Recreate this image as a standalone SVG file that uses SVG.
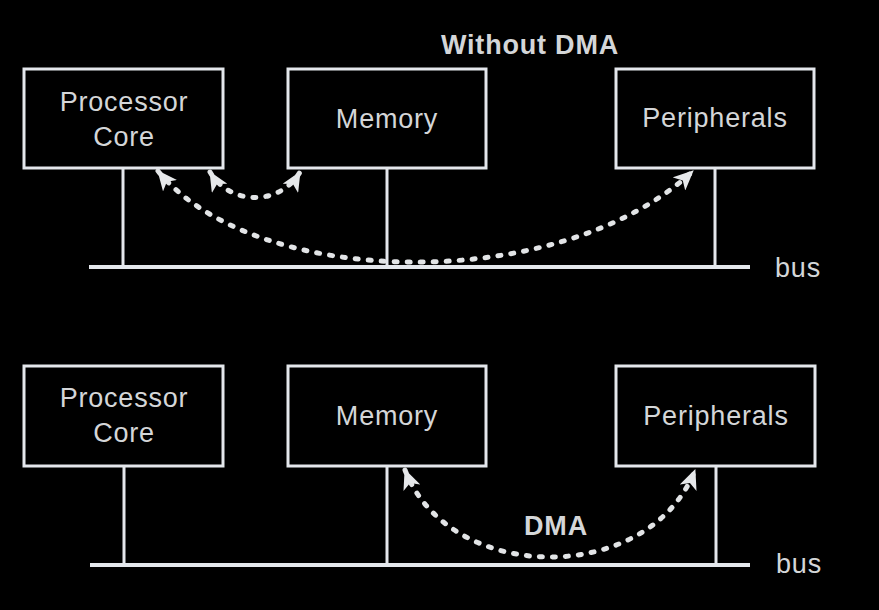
<svg xmlns="http://www.w3.org/2000/svg" width="879" height="610" viewBox="0 0 879 610">
  <style>
    .box { fill: #000; stroke: #e4e7ec; stroke-width: 3; }
    .wire { stroke: #e4e7ec; stroke-width: 3; fill: none; }
    .bus { stroke: #e4e7ec; stroke-width: 4; fill: none; }
    .lbl { font-family: "Liberation Sans", Arial, sans-serif; font-size: 27px; fill: #d4d6d8; text-anchor: middle; letter-spacing: 0.8px; }
    .bold { font-weight: bold; }
    .flow { stroke: #e2e4e6; stroke-width: 5; fill: none; stroke-dasharray: 3 10; stroke-linecap: round; }
  </style>
  <defs>
    <marker id="ah" viewBox="0 0 20 18" refX="19" refY="9" markerWidth="20" markerHeight="18" markerUnits="userSpaceOnUse" orient="auto-start-reverse">
      <path d="M0,0 L20,9 L0,18 L5,9 Z" fill="#e6e8ea"/>
    </marker>
  </defs>
  <rect width="879" height="610" fill="#000"/>

  <text class="lbl bold" x="530" y="54">Without DMA</text>

  <g id="bus-top">
    <line class="bus" x1="89" y1="267" x2="750" y2="267"/>
    <line class="wire" x1="123" y1="168" x2="123" y2="267"/>
    <line class="wire" x1="387" y1="168" x2="387" y2="267"/>
    <line class="wire" x1="715" y1="168" x2="715" y2="267"/>
    <text class="lbl" x="798" y="277">bus</text>
  </g>

  <g id="proc-top">
    <rect class="box" x="24" y="69" width="199" height="99"/>
    <text class="lbl" x="124" y="111">Processor</text>
    <text class="lbl" x="124" y="146">Core</text>
  </g>
  <g id="mem-top">
    <rect class="box" x="288" y="69" width="198" height="99"/>
    <text class="lbl" x="387" y="128">Memory</text>
  </g>
  <g id="per-top">
    <rect class="box" x="616" y="69" width="198" height="99"/>
    <text class="lbl" x="715" y="127">Peripherals</text>
  </g>

  <g id="bus-bottom">
    <line class="bus" x1="90" y1="565" x2="750" y2="565"/>
    <line class="wire" x1="124" y1="466" x2="124" y2="565"/>
    <line class="wire" x1="387" y1="466" x2="387" y2="565"/>
    <line class="wire" x1="716" y1="466" x2="716" y2="565"/>
    <text class="lbl" x="799" y="573">bus</text>
  </g>

  <g id="proc-bottom">
    <rect class="box" x="24" y="366" width="199" height="100"/>
    <text class="lbl" x="124" y="407">Processor</text>
    <text class="lbl" x="124" y="442">Core</text>
  </g>
  <g id="mem-bottom">
    <rect class="box" x="288" y="366" width="198" height="100"/>
    <text class="lbl" x="387" y="425">Memory</text>
  </g>
  <g id="per-bottom">
    <rect class="box" x="616" y="366" width="199" height="100"/>
    <text class="lbl" x="716" y="425">Peripherals</text>
  </g>

  <g id="connectors">
    <path class="flow" d="M210,172 C230,206 280,206 300,172" marker-start="url(#ah)" marker-end="url(#ah)"/>
    <path class="flow" d="M158,171 C255,290 560,295 693,171" marker-start="url(#ah)" marker-end="url(#ah)"/>
    <path class="flow" d="M405,470 C450,586 650,586 695,470" marker-start="url(#ah)" marker-end="url(#ah)"/>
    <text class="lbl bold" x="556" y="535">DMA</text>
  </g>
</svg>
